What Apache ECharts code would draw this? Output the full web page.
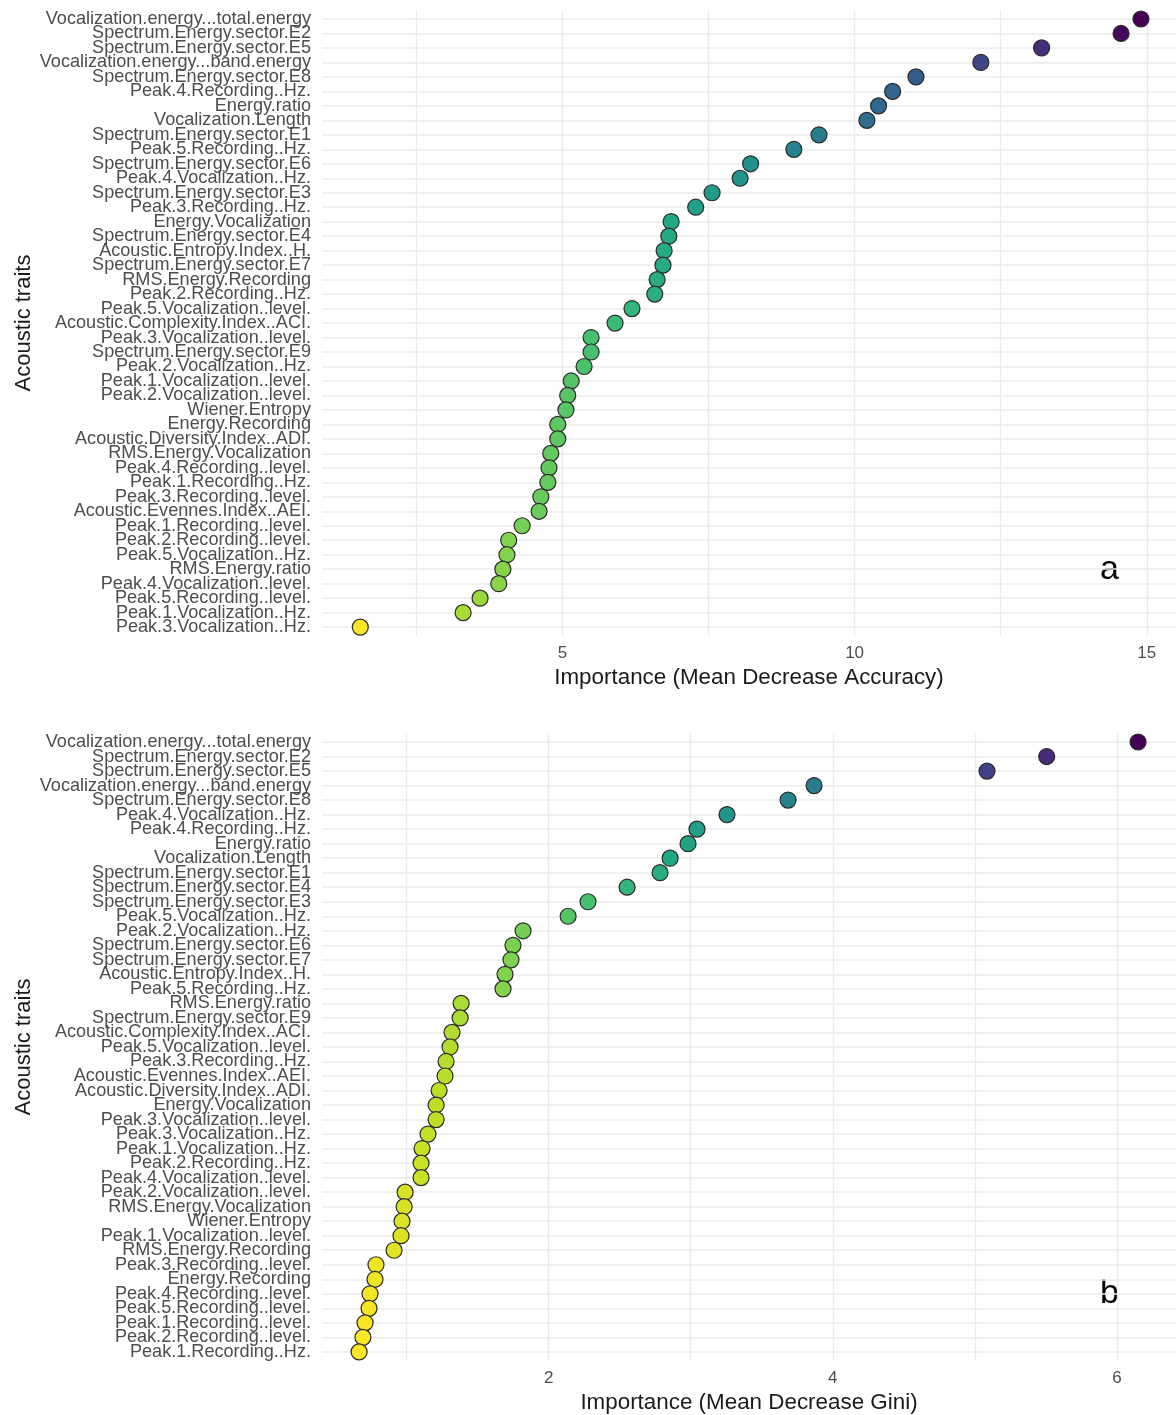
<!DOCTYPE html>
<html>
<head>
<meta charset="utf-8">
<title>Random forest importance of acoustic traits</title>
<script src="https://cdn.jsdelivr.net/npm/echarts@6/dist/echarts.min.js"></script>
<style>
  html, body { margin: 0; padding: 0; background: #ffffff; }
  #chart { width: 1176px; height: 1415px; }
</style>
</head>
<body>
<div id="chart"></div>
<script>
// Panel a: traits ranked by Mean Decrease Accuracy (top to bottom)
const accuracyTraits = [
  'Vocalization.energy...total.energy', 'Spectrum.Energy.sector.E2', 'Spectrum.Energy.sector.E5',
  'Vocalization.energy...band.energy', 'Spectrum.Energy.sector.E8', 'Peak.4.Recording..Hz.',
  'Energy.ratio', 'Vocalization.Length', 'Spectrum.Energy.sector.E1', 'Peak.5.Recording..Hz.',
  'Spectrum.Energy.sector.E6', 'Peak.4.Vocalization..Hz.', 'Spectrum.Energy.sector.E3',
  'Peak.3.Recording..Hz.', 'Energy.Vocalization', 'Spectrum.Energy.sector.E4',
  'Acoustic.Entropy.Index..H.', 'Spectrum.Energy.sector.E7', 'RMS.Energy.Recording',
  'Peak.2.Recording..Hz.', 'Peak.5.Vocalization..level.', 'Acoustic.Complexity.Index..ACI.',
  'Peak.3.Vocalization..level.', 'Spectrum.Energy.sector.E9', 'Peak.2.Vocalization..Hz.',
  'Peak.1.Vocalization..level.', 'Peak.2.Vocalization..level.', 'Wiener.Entropy',
  'Energy.Recording', 'Acoustic.Diversity.Index..ADI.', 'RMS.Energy.Vocalization',
  'Peak.4.Recording..level.', 'Peak.1.Recording..Hz.', 'Peak.3.Recording..level.',
  'Acoustic.Evennes.Index..AEI.', 'Peak.1.Recording..level.', 'Peak.2.Recording..level.',
  'Peak.5.Vocalization..Hz.', 'RMS.Energy.ratio', 'Peak.4.Vocalization..level.',
  'Peak.5.Recording..level.', 'Peak.1.Vocalization..Hz.', 'Peak.3.Vocalization..Hz.'
];
const accuracyValues = [
  14.90, 14.56, 13.20, 12.16, 11.05, 10.65, 10.41, 10.21, 9.39, 8.96,
  8.22, 8.04, 7.56, 7.28, 6.86, 6.82, 6.74, 6.72, 6.62, 6.58,
  6.19, 5.90, 5.49, 5.49, 5.37, 5.15, 5.09, 5.06, 4.92, 4.92,
  4.80, 4.77, 4.75, 4.63, 4.60, 4.31, 4.08, 4.05, 3.98, 3.91,
  3.59, 3.30, 1.54
];

// Panel b: traits ranked by Mean Decrease Gini (top to bottom)
const giniTraits = [
  'Vocalization.energy...total.energy', 'Spectrum.Energy.sector.E2', 'Spectrum.Energy.sector.E5',
  'Vocalization.energy...band.energy', 'Spectrum.Energy.sector.E8', 'Peak.4.Vocalization..Hz.',
  'Peak.4.Recording..Hz.', 'Energy.ratio', 'Vocalization.Length', 'Spectrum.Energy.sector.E1',
  'Spectrum.Energy.sector.E4', 'Spectrum.Energy.sector.E3', 'Peak.5.Vocalization..Hz.',
  'Peak.2.Vocalization..Hz.', 'Spectrum.Energy.sector.E6', 'Spectrum.Energy.sector.E7',
  'Acoustic.Entropy.Index..H.', 'Peak.5.Recording..Hz.', 'RMS.Energy.ratio',
  'Spectrum.Energy.sector.E9', 'Acoustic.Complexity.Index..ACI.', 'Peak.5.Vocalization..level.',
  'Peak.3.Recording..Hz.', 'Acoustic.Evennes.Index..AEI.', 'Acoustic.Diversity.Index..ADI.',
  'Energy.Vocalization', 'Peak.3.Vocalization..level.', 'Peak.3.Vocalization..Hz.',
  'Peak.1.Vocalization..Hz.', 'Peak.2.Recording..Hz.', 'Peak.4.Vocalization..level.',
  'Peak.2.Vocalization..level.', 'RMS.Energy.Vocalization', 'Wiener.Entropy',
  'Peak.1.Vocalization..level.', 'RMS.Energy.Recording', 'Peak.3.Recording..level.',
  'Energy.Recording', 'Peak.4.Recording..level.', 'Peak.5.Recording..level.',
  'Peak.1.Recording..level.', 'Peak.2.Recording..level.', 'Peak.1.Recording..Hz.'
];
const giniValues = [
  6.148, 5.505, 5.085, 3.868, 3.685, 3.255, 3.044, 2.981, 2.855, 2.784,
  2.552, 2.277, 2.137, 1.820, 1.749, 1.735, 1.693, 1.679, 1.384, 1.377,
  1.320, 1.306, 1.278, 1.271, 1.229, 1.208, 1.208, 1.151, 1.109, 1.102,
  1.102, 0.990, 0.983, 0.968, 0.961, 0.912, 0.785, 0.778, 0.743, 0.736,
  0.708, 0.693, 0.666
];

// Tick positions on the importance axes
const accuracyGridTicks = [2.5, 5, 7.5, 10, 12.5, 15];
const accuracyTickLabels = [5, 10, 15];
const giniGridTicks = [1, 2, 3, 4, 5, 6];
const giniTickLabels = [2, 4, 6];

// viridis, low importance (yellow) to high importance (purple)
const viridisLowToHigh = [
  '#FDE725', '#BDDF26', '#7AD151', '#44BF70', '#22A884', '#21918C',
  '#2A788E', '#355F8D', '#414487', '#482475', '#440154'
];

const FONT = '"Liberation Sans", Arial, Helvetica, sans-serif';
const GRID_COLOR = '#EBEBEB';

function rankPositions(n) {
  const out = [];
  for (let i = 1; i <= n; i++) out.push(i);
  return out;
}

function xAxisFor(gridIndex, min, max, gridTicks, tickLabels, title) {
  return {
    type: 'value', gridIndex, min, max,
    name: title, nameLocation: 'middle', nameGap: 31,
    nameTextStyle: { fontFamily: FONT, fontSize: 22.4, color: '#1a1a1a' },
    axisLine: { show: false },
    axisTick: { show: false, customValues: gridTicks },
    axisLabel: {
      customValues: tickLabels, margin: 9,
      fontFamily: FONT, fontSize: 17, color: '#4d4d4d'
    },
    splitLine: { show: true, lineStyle: { color: GRID_COLOR, width: 1.3 } }
  };
}

// The trait names sit closer together than their font height, so each
// panel splits them over two stacked left axes (odd / even ranks) to keep
// every name visible; the first axis also carries the row grid lines.
function yAxesFor(gridIndex, traits) {
  const ranks = rankPositions(traits.length);
  const labelStyle = {
    margin: 11, showMinLabel: true, showMaxLabel: true, hideOverlap: false,
    fontFamily: FONT, fontSize: 18.1, color: '#4d4d4d',
    formatter: v => traits[Math.round(v) - 1] || ''
  };
  const common = {
    type: 'value', gridIndex, inverse: true, position: 'left', offset: 0,
    min: 0.4, max: traits.length + 0.6,
    axisLine: { show: false }
  };
  return [
    Object.assign({}, common, {
      name: 'Acoustic traits', nameLocation: 'middle', nameGap: 287,
      nameTextStyle: { fontFamily: FONT, fontSize: 22, color: '#1a1a1a' },
      axisTick: { show: false, customValues: ranks },
      axisLabel: Object.assign({}, labelStyle, {
        customValues: ranks.filter(r => r % 2 === 1)
      }),
      splitLine: { show: true, lineStyle: { color: GRID_COLOR, width: 1.6 } }
    }),
    Object.assign({}, common, {
      axisTick: { show: false },
      axisLabel: Object.assign({}, labelStyle, {
        customValues: ranks.filter(r => r % 2 === 0)
      }),
      splitLine: { show: false }
    })
  ];
}

function points(values) {
  return values.map((v, i) => [v, i + 1]);
}

function dotSeries(xIndex, yIndex, values) {
  return {
    type: 'scatter', xAxisIndex: xIndex, yAxisIndex: yIndex,
    data: points(values),
    symbol: 'circle', symbolSize: 16,
    itemStyle: { borderColor: '#2b2b2b', borderWidth: 1.2, opacity: 1 },
    emphasis: { disabled: true },
    z: 3
  };
}

const chart = echarts.init(document.getElementById('chart'), null, { renderer: 'canvas' });

chart.setOption({
  backgroundColor: '#ffffff',
  animation: false,
  grid: [
    { left: 322, width: 854, top: 10.3, height: 625.5 },
    { left: 322, width: 854, top: 733.3, height: 627.3 }
  ],
  xAxis: [
    xAxisFor(0, 0.885, 15.5, accuracyGridTicks, accuracyTickLabels,
      'Importance (Mean Decrease Accuracy)'),
    xAxisFor(1, 0.405, 6.415, giniGridTicks, giniTickLabels,
      'Importance (Mean Decrease Gini)')
  ],
  yAxis: [
    ...yAxesFor(0, accuracyTraits),
    ...yAxesFor(1, giniTraits)
  ],
  visualMap: [
    {
      type: 'continuous', show: false, seriesIndex: 0, dimension: 0,
      min: Math.min(...accuracyValues), max: Math.max(...accuracyValues),
      inRange: { color: viridisLowToHigh }
    },
    {
      type: 'continuous', show: false, seriesIndex: 1, dimension: 0,
      min: Math.min(...giniValues), max: Math.max(...giniValues),
      inRange: { color: viridisLowToHigh }
    }
  ],
  series: [
    dotSeries(0, 0, accuracyValues),
    dotSeries(1, 2, giniValues)
  ],
  graphic: [
    {
      type: 'text', left: 1100, top: 553,
      style: { text: 'a', fontFamily: FONT, fontSize: 34, fill: '#000000' }
    },
    {
      type: 'text', left: 1100, top: 1277,
      style: { text: 'b', fontFamily: FONT, fontSize: 34, fill: '#000000' }
    }
  ]
});
</script>
</body>
</html>
